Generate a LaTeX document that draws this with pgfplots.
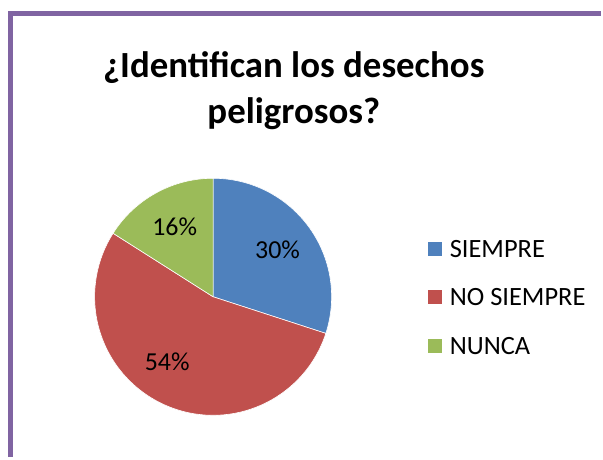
\documentclass[border=0pt]{standalone}
\usepackage{pgfplots}
\pgfplotsset{compat=1.18}
\usepackage{pgfplotstable}
\usetikzlibrary{calc}
\usepackage{fontspec}
\setmainfont{Carlito}

\definecolor{pie0}{HTML}{4F81BD}
\definecolor{pie1}{HTML}{C0504D}
\definecolor{pie2}{HTML}{9BBB59}
\definecolor{frameviolet}{HTML}{8064A2}

% shift = nudge of the data label off the slice's middle angle (deg)
\pgfplotstableread[col sep=comma]{
label,value,shift
SIEMPRE,30,0
NO SIEMPRE,54,-10
NUNCA,16,0
}\piedata

% pie centre and radius, in chart units (1 unit = 1pt)
\def\cx{214}
\def\cy{161}
\def\rad{119}

\newcount\ri
\def\cum{0}

% cumulative angles, clockwise from 12 o'clock
\ri=0
\loop
  \pgfplotstablegetelem{\the\ri}{value}\of\piedata
  \let\v\pgfplotsretval
  \pgfplotstablegetelem{\the\ri}{shift}\of\piedata
  \let\sh\pgfplotsretval
  \pgfmathsetmacro\a{90-3.6*\cum}%
  \pgfmathsetmacro\b{90-3.6*(\cum+\v)}%
  \pgfmathsetmacro\m{(\a+\b)/2+\sh}%
  \expandafter\xdef\csname sa\the\ri\endcsname{\a}%
  \expandafter\xdef\csname ea\the\ri\endcsname{\b}%
  \expandafter\xdef\csname ma\the\ri\endcsname{\m}%
  \pgfmathtruncatemacro\vv{\v}%
  \expandafter\xdef\csname val\the\ri\endcsname{\vv}%
  \pgfplotstablegetelem{\the\ri}{label}\of\piedata
  \expandafter\xdef\csname lab\the\ri\endcsname{\pgfplotsretval}%
  \pgfmathsetmacro\cum{\cum+\v}%
  \advance\ri by 1
\ifnum\ri<3 \repeat

\begin{document}
\begin{tikzpicture}
\begin{axis}[
  width=603pt, height=459pt, scale only axis,
  xmin=0, xmax=603, ymin=0, ymax=459,
  enlargelimits=false,
  hide axis, clip=false,
]
\path (axis cs:0,0) rectangle (axis cs:603,459);
% frame
\draw[line width=5pt, frameviolet, line cap=butt]
  (axis cs:10.5,0) -- (axis cs:10.5,445.5) -- (axis cs:603,445.5);

% title
\node[font=\fontsize{37}{47}\selectfont\bfseries, align=center]
  at (axis cs:295,368) {¿Identifican los desechos\\peligrosos?};

\pgfplotsinvokeforeach{0,1,2}{
  \fill[pie#1, draw=white, line width=0.6pt]
    (axis cs:\cx,\cy) -- ++(\csname sa#1\endcsname:\rad pt)
    arc[start angle=\csname sa#1\endcsname, end angle=\csname ea#1\endcsname, radius=\rad pt] -- cycle;
}
\pgfplotsinvokeforeach{0,1,2}{
  \node[font=\fontsize{26}{30}\selectfont]
    at ($(axis cs:\cx,\cy)+(\csname ma#1\endcsname:80pt)$) {\csname val#1\endcsname\%};
  % legend
  \fill[pie#1] (axis cs:430,{202-48.5*#1}) rectangle (axis cs:444,{216-48.5*#1});
  \node[font=\fontsize{26.5}{30}\selectfont, anchor=west, inner sep=0pt]
    at (axis cs:451.5,{209-48.5*#1}) {\csname lab#1\endcsname};
}
\end{axis}
\end{tikzpicture}
\end{document}
